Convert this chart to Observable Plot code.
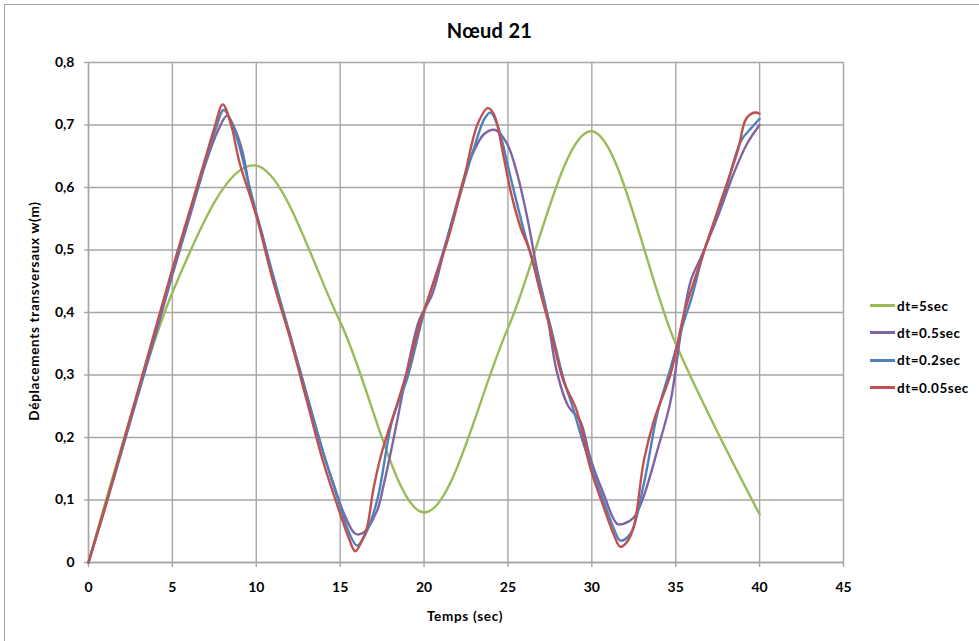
<!DOCTYPE html>
<html>
<head>
<meta charset="utf-8">
<script src="https://cdn.jsdelivr.net/npm/d3@7"></script>
<script src="https://cdn.jsdelivr.net/npm/@observablehq/plot@0.6"></script>
<style>
  body { margin: 0; background: #fff; font-family: Lato, "Open Sans", sans-serif; }
  #wrap { position: relative; width: 979px; height: 641px; overflow: hidden; background: #fff; }
  #frame { position: absolute; left: 4px; top: 4px; width: 1000px; height: 700px; border: 1.5px solid #a6a6a6; box-sizing: border-box; }
  #title { position: absolute; left: 0; top: 18px; width: 979px; text-align: center; font-weight: bold; font-size: 20px; line-height: 24px; color: #000; letter-spacing: 0.3px; }
  #chart { position: absolute; left: 0; top: 50px; }
  #ylabel { position: absolute; left: 34px; top: 311px; transform: translate(-50%, -50%) rotate(-90deg); white-space: nowrap; font-weight: bold; font-size: 13.5px; letter-spacing: 0.7px; color: #000; }
  #xlabel { position: absolute; left: 465px; top: 616px; transform: translate(-50%, -50%); white-space: nowrap; font-weight: bold; font-size: 13.5px; letter-spacing: 0.7px; color: #000; }
  #legend { position: absolute; left: 870px; top: 292px; font-weight: bold; font-size: 13.5px; letter-spacing: 0.5px; color: #000; }
  .item { display: flex; align-items: center; height: 27.3px; }
  .sw { display: inline-block; width: 25px; height: 0; border-top: 3px solid; margin-right: 2px; }
</style>
</head>
<body>
<div id="wrap">
  <div id="frame"></div>
  <div id="title">Nœud 21</div>
  <div id="chart"></div>
  <div id="ylabel">Déplacements transversaux w(m)</div>
  <div id="xlabel">Temps (sec)</div>
  <div id="legend"></div>
</div>
<script>
// ---- Data ----
const seriesNames = ["dt=5sec", "dt=0.5sec", "dt=0.2sec", "dt=0.05sec"];
const seriesColors = ["#9bbb59", "#8064a2", "#4f81bd", "#c0504d"];

const tGreen = [0, 5, 10, 15, 20, 25, 30, 35, 40];
const vGreen = [0, 0.432, 0.635, 0.385, 0.08, 0.375, 0.69, 0.35, 0.077];

const tPurple = [0,1,2,3,4,5,6,7,7.7,8.26,8.7,9.16,9.75,10.3,11,12,13,14,14.6,15.2,15.9,16.4,17.2,17.6,18.0,18.4,19.2,19.7,20.5,21.2,21.8,22.8,23.6,24.25,24.95,25.55,26.15,26.75,27.3,27.9,28.6,29.3,29.9,30.7,31.5,31.9,32.5,33.0,33.9,34.7,35.3,35.9,36.5,37.5,38.45,39.25,40];
const vPurple = [0,0.088,0.18,0.272,0.365,0.46,0.55,0.64,0.69,0.715,0.695,0.659,0.579,0.53,0.455,0.365,0.27,0.175,0.126,0.08,0.046,0.048,0.083,0.125,0.174,0.227,0.334,0.387,0.43,0.5,0.56,0.648,0.686,0.692,0.67,0.622,0.552,0.467,0.403,0.307,0.25,0.227,0.168,0.11,0.062,0.062,0.072,0.099,0.179,0.259,0.366,0.451,0.488,0.553,0.622,0.67,0.70];

const tBlue = [0,1,2,3,4,5,6,7,7.6,8.06,8.76,9.55,10,11,12,13,14,15,15.5,16.0,16.5,17.2,18.1,19,20,21,22,23,23.6,23.96,24.35,25.15,25.95,26.75,27.5,28.3,28.9,29.5,30.7,31.3,31.7,32.3,33.1,33.9,34.7,35.5,35.9,36.7,37.9,38.9,39.5,40];
const vBlue = [0,0.09,0.182,0.275,0.37,0.465,0.555,0.645,0.695,0.724,0.686,0.606,0.56,0.46,0.365,0.268,0.175,0.09,0.05,0.027,0.045,0.099,0.227,0.295,0.4,0.485,0.575,0.665,0.71,0.72,0.702,0.617,0.531,0.456,0.382,0.295,0.245,0.19,0.099,0.055,0.035,0.046,0.126,0.238,0.312,0.387,0.419,0.499,0.59,0.675,0.695,0.71];

const tRed = [0,0.5,1,2,3,4,5,6,7,7.5,8,8.5,9,10,11,12,13,14,15,15.5,15.9,16.3,16.6,17,17.5,18.4,19,19.8,20.4,21.4,22.35,23.2,23.8,24.15,24.75,25.15,25.75,26.3,26.9,27.5,28.3,29.1,29.9,30.7,31.3,31.7,32.1,32.5,33.1,33.7,34.7,35.5,36.7,37.7,38.7,39.2,39.7,40];
const vRed = [0,0.045,0.09,0.185,0.28,0.375,0.47,0.56,0.65,0.695,0.733,0.70,0.64,0.555,0.45,0.36,0.26,0.16,0.078,0.04,0.018,0.035,0.056,0.12,0.178,0.254,0.307,0.387,0.435,0.515,0.611,0.702,0.727,0.718,0.648,0.595,0.536,0.499,0.435,0.376,0.291,0.243,0.152,0.089,0.045,0.025,0.033,0.057,0.163,0.227,0.302,0.398,0.499,0.579,0.659,0.71,0.72,0.718];

const xTicks = [0, 5, 10, 15, 20, 25, 30, 35, 40, 45];
const yTicks = [0, 0.1, 0.2, 0.3, 0.4, 0.5, 0.6, 0.7, 0.8];
const yTickLabels = ["0", "0,1", "0,2", "0,3", "0,4", "0,5", "0,6", "0,7", "0,8"];

// ---- Build table ----
const allT = [tGreen, tPurple, tBlue, tRed];
const allV = [vGreen, vPurple, vBlue, vRed];
const data = seriesNames.flatMap((s, i) => allT[i].map((t, j) => ({series: s, t, v: allV[i][j]})));

const gridColor = "#a6a6a6";
const lineMarks = seriesNames.map((s, i) =>
  Plot.line(data.filter(d => d.series === s), {x: "t", y: "v", stroke: seriesColors[i], strokeWidth: 2.4,
    curve: i === 0 ? "cardinal" : "catmull-rom"})
);

const chart = Plot.plot({
  width: 979,
  height: 591,
  marginLeft: 88,
  marginRight: 136,
  marginTop: 12,
  marginBottom: 79,
  style: {fontFamily: "Lato, 'Open Sans', sans-serif", fontSize: "14px", fontWeight: "bold", color: "#000", background: "transparent"},
  x: {domain: [0, 45]},
  y: {domain: [0, 0.8]},
  marks: [
    Plot.gridX(xTicks, {stroke: gridColor, strokeOpacity: 1, strokeWidth: 1.4}),
    Plot.gridY(yTicks, {stroke: gridColor, strokeOpacity: 1, strokeWidth: 1.4}),
    Plot.ruleX([0], {stroke: gridColor, strokeWidth: 1.4}),
    Plot.ruleY([0], {stroke: gridColor, strokeWidth: 1.4}),
    Plot.axisX(xTicks, {label: null, tickSize: 5, tickPadding: 15, stroke: gridColor, fill: "#000", strokeWidth: 1.4}),
    Plot.axisY(yTicks, {label: null, tickSize: 4, tickPadding: 10, stroke: gridColor, fill: "#000", strokeWidth: 1.4,
      tickFormat: d => yTickLabels[yTicks.indexOf(d)]}),
    ...lineMarks
  ]
});
document.getElementById("chart").appendChild(chart);

// ---- Legend ----
const legend = document.getElementById("legend");
seriesNames.forEach((s, i) => {
  const row = document.createElement("div");
  row.className = "item";
  const sw = document.createElement("span");
  sw.className = "sw";
  sw.style.borderTopColor = seriesColors[i];
  const tx = document.createElement("span");
  tx.textContent = s;
  row.appendChild(sw);
  row.appendChild(tx);
  legend.appendChild(row);
});
</script>
</body>
</html>
